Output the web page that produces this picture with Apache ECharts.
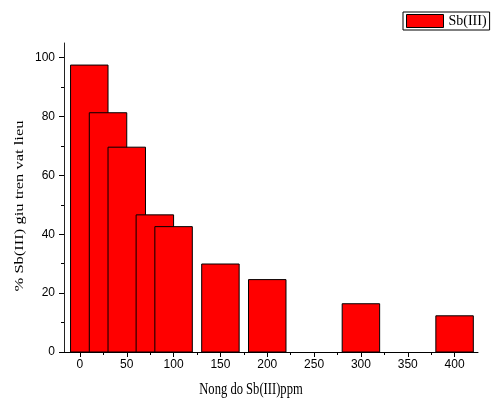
<!DOCTYPE html>
<html>
<head>
<meta charset="utf-8">
<script src="https://cdn.jsdelivr.net/npm/echarts@6/dist/echarts.min.js"></script>
<style>
  html, body { margin: 0; padding: 0; background: #fff; }
  #main { width: 494px; height: 399px; }
</style>
</head>
<body>
<div id="main"></div>
<script>
// concentration (ppm) and % Sb(III) retained
var concentrations = [10, 30, 50, 80, 100, 150, 200, 300, 400];
var retained = [97.5, 81.3, 69.6, 46.6, 42.6, 29.9, 24.6, 16.4, 12.3];
var xTickValues = [0, 50, 100, 150, 200, 250, 300, 350, 400];
var xMinorValues = [25, 75, 125, 175, 225, 275, 325, 375];
var yTickValues = [0, 20, 40, 60, 80, 100];
var yMinorValues = [10, 30, 50, 70, 90];
var xTitle = 'Nong do Sb(III)ppm';
var yTitle = '% Sb(III) giu tren vat lieu';

var barSpan = 40; // bar width in axis units

var dom = document.getElementById('main');
var myChart = echarts.init(dom);

var seriesData = concentrations.map(function (c, i) { return [c, retained[i]]; });

// the source picture is squeezed sideways, so the titles are drawn narrower
var option = {
  animation: false,
  grid: { left: 64, right: 16, top: 43, bottom: 47 },
  graphic: [
    {
      type: 'text',
      x: 251,
      y: 390,
      scaleX: 0.74,
      style: {
        text: xTitle,
        font: '17px "Liberation Serif"',
        fill: '#000',
        align: 'center',
        verticalAlign: 'middle'
      }
    },
    {
      type: 'text',
      x: 19.5,
      y: 206,
      rotation: Math.PI / 2,
      scaleY: 0.8,
      style: {
        text: yTitle,
        font: '16.5px "Liberation Serif"',
        fill: '#000',
        align: 'center',
        verticalAlign: 'middle'
      }
    }
  ],
  legend: {
    left: 403,
    top: 12,
    padding: [2, 3, 2, 3],
    borderColor: '#000',
    borderWidth: 1,
    itemWidth: 37,
    itemHeight: 13,
    itemGap: 5,
    textStyle: { fontFamily: 'Liberation Serif', fontSize: 14, color: '#000' },
    data: [{
      name: 'Sb(III)',
      icon: 'rect',
      itemStyle: { color: '#ff0000', borderColor: '#000', borderWidth: 1 }
    }]
  },
  xAxis: [
    {
      type: 'value',
      min: -17,
      max: 425,
      splitLine: { show: false },
      axisLine: { onZero: false, lineStyle: { color: '#000', width: 1 } },
      axisTick: { show: true, length: 5, customValues: xTickValues, lineStyle: { color: '#000' } },
      axisLabel: { customValues: xTickValues, fontFamily: 'Liberation Sans', fontSize: 12, color: '#000', margin: 7 }
    },
    {
      type: 'value',
      position: 'bottom',
      min: -17,
      max: 425,
      splitLine: { show: false },
      axisLine: { show: false, onZero: false },
      axisTick: { show: true, length: 3, customValues: xMinorValues, lineStyle: { color: '#000' } },
      axisLabel: { show: false }
    }
  ],
  yAxis: [
    {
      type: 'value',
      min: 0,
      max: 105,
      splitLine: { show: false },
      axisLine: { show: true, onZero: false, lineStyle: { color: '#222', width: 1 } },
      axisTick: { show: true, length: 5, customValues: yTickValues, lineStyle: { color: '#000' } },
      axisLabel: { customValues: yTickValues, fontFamily: 'Liberation Sans', fontSize: 12, color: '#000', margin: 9 }
    },
    {
      type: 'value',
      position: 'left',
      min: 0,
      max: 105,
      splitLine: { show: false },
      axisLine: { show: false, onZero: false },
      axisTick: { show: true, length: 3, customValues: yMinorValues, lineStyle: { color: '#000' } },
      axisLabel: { show: false }
    }
  ],
  series: [
    {
      name: 'Sb(III)',
      type: 'custom',
      xAxisIndex: 0,
      yAxisIndex: 0,
      data: seriesData,
      renderItem: function (params, api) {
        var x = api.value(0);
        var y = api.value(1);
        var p0 = api.coord([x - barSpan / 2, y]);
        var p1 = api.coord([x + barSpan / 2, 0]);
        return {
          type: 'rect',
          shape: { x: p0[0], y: p0[1], width: p1[0] - p0[0], height: p1[1] - p0[1] },
          style: { fill: '#ff0000', stroke: '#000', lineWidth: 1 }
        };
      }
    }
  ]
};

if (option && typeof option === 'object') {
  myChart.setOption(option);
}
</script>
</body>
</html>
